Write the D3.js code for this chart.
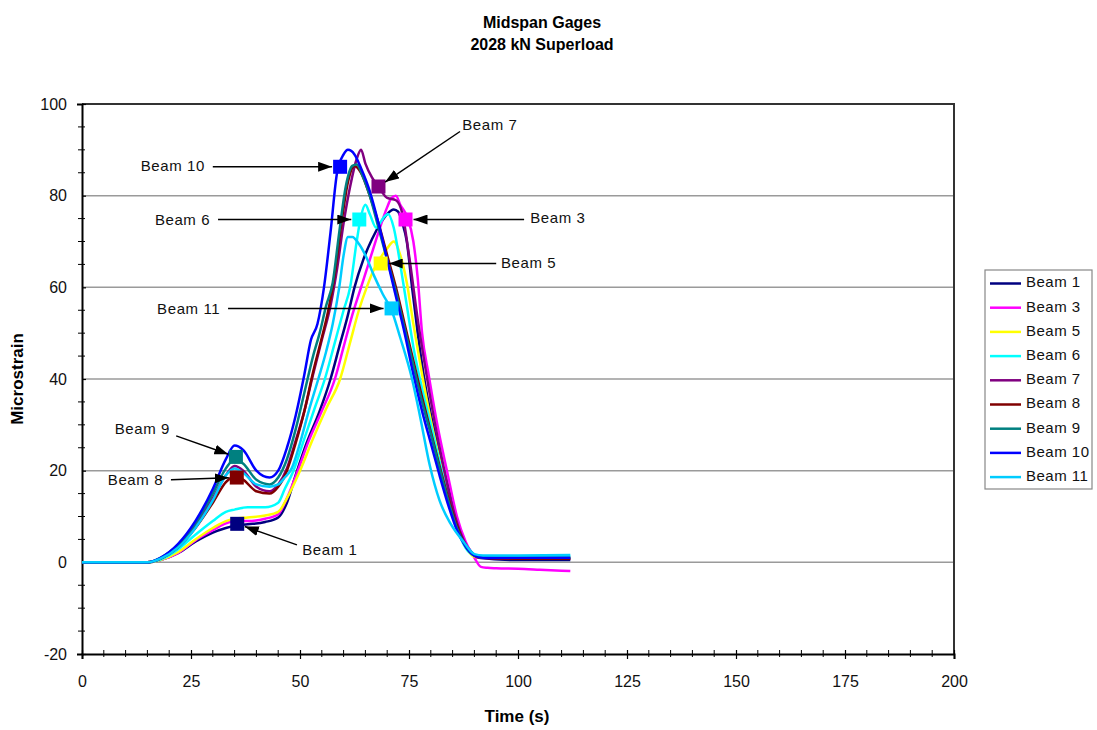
<!DOCTYPE html>
<html>
<head>
<meta charset="utf-8">
<script src="https://cdn.jsdelivr.net/npm/d3@7"></script>
<style>
  body { margin: 0; background: #fff; font-family: "Liberation Sans", Arial, sans-serif; }
</style>
</head>
<body>
<script>
// series as [time (s), microstrain]
const beamNames = ["Beam 1", "Beam 3", "Beam 5", "Beam 6", "Beam 7", "Beam 8", "Beam 9", "Beam 10", "Beam 11"];
const beamColors = ["#000080", "#ff00ff", "#ffff00", "#00ffff", "#800080", "#800000", "#008080", "#0000ff", "#00ccff"];

const beam1 = [[0,0],[15,0],[18,0.5],[22,2],[26,4.5],[30,6.5],[33,7.5],[35,8],[38,8.3],[42,8.8],[45,9.8],[47,13],[49,19],[51.5,26],[54.5,33],[57,40],[59,47],[61,54],[62.5,60],[64.5,66],[66.5,70.5],[68.5,74],[70,76],[71.5,77],[72.5,76.5],[73.5,74],[74.5,70],[75.7,60],[77,50],[78.5,40],[80.5,30],[83,20],[85.5,11],[87.5,5],[89.5,2],[91,1],[100,0.5],[112,0.5]];
const beam3 = [[0,0],[15,0],[18,0.5],[22,2],[26,4.8],[30,7],[33,8.5],[35,9],[38,9],[42,9.5],[45,10.5],[47,14],[49.5,20],[52,26.5],[55,33],[58,40],[60,47],[62,54],[64,60],[66,66],[68,72],[70,77.5],[71,79.5],[72,80],[73,78],[74.5,75.5],[76,70],[77,62],[78,50],[79.5,41],[81.5,30],[83.7,20],[86,10],[88,4.5],[90,1],[91.5,-1],[93,-1.2],[95,-1.3],[100,-1.4],[105,-1.6],[112,-1.9]];
const beam5 = [[0,0],[15,0],[18,0.5],[22,2.2],[26,5],[30,7.5],[33,9],[35,9.5],[38,9.8],[42,10.2],[45,11],[47,14],[50,20],[53,27],[56,33.5],[59.2,40],[61.5,48],[63.5,55],[65.3,60],[67,64],[68.5,66.5],[70,68.5],[71.5,70],[73,67],[74.5,61],[76,52],[78,41],[80,31],[82,22.5],[84,14.5],[86,8],[88,3.5],[90,1.2],[92,1],[100,1],[112,1]];
const beam6 = [[0,0],[15,0],[18,0.6],[22,2.8],[26,6],[30,9],[33,11],[35,11.5],[38,12],[42,12],[45,13],[46.5,16],[48.5,20],[51,27],[53.5,34],[55.7,40],[58,48],[60,55],[61.5,60],[63,70],[64,75.5],[65,78],[66,76],[67.5,73],[69,75],[70.2,76],[71.5,73],[73,65],[74.5,56],[76,47],[77.5,40],[80,30],[82.5,20],[85,11],[87,5],[89,2],[91,1.2],[100,1.2],[112,1.3]];
const beam7 = [[0,0],[15,0],[18,0.8],[22,3.5],[26,8],[30,14],[33,19],[35,21],[37,20],[40,16.5],[43,15.5],[45,17],[47,20.5],[49,26.5],[51,33],[53,41],[55,48.5],[57,56],[58.5,64],[60,74],[61.5,82],[63,88],[64,90],[65,87],[66.5,84],[68,82],[70,79.5],[72,79],[73.5,76],[75,67],[77,53],[79,41],[81,30],[83,20.5],[85,12],[87,6],[89,2.5],[91,1],[100,0.8],[112,0.8]];
const beam8 = [[0,0],[15,0],[18,0.8],[22,3.2],[26,7.5],[30,13],[33,17.5],[35,18.8],[37,18],[40,15.5],[43,15],[45,16.5],[47,20],[49,26],[51,33],[53,41.5],[55,49],[56.5,55],[58,63],[59.5,74],[61,83],[62.5,86.5],[64,85],[66,80],[68,74],[70,67],[72,60],[74,52],[76,44],[78,36],[80,28.5],[82,21],[84,14],[86,8],[88,3.5],[90,1.5],[92,1],[100,0.8],[112,0.8]];
const beam9 = [[0,0],[15,0],[18,1],[22,3.8],[26,8.5],[30,15],[33,20.5],[35,22.5],[37,21.5],[40,18],[43,17],[45,18.5],[47,22.5],[49,29],[51,37],[53,45],[54.5,50],[56,56],[57.5,61],[59,72],[60.5,82],[62,86.5],[63,86.8],[64.5,84],[66,80],[68,73],[70,66],[72,59],[74,51],[76,43],[78,35],[80,28],[82,20.5],[84,13.5],[86,7.5],[88,3.5],[90,1.5],[92,1],[100,1],[112,1]];
const beam10 = [[0,0],[15,0],[18,1],[22,4],[26,9],[30,16],[33,22.5],[35,25.5],[37,24.5],[40,20],[43,18.5],[45,20],[47,25],[49,32],[51,41],[52.5,48.5],[54,52],[55.5,60],[57,72],[58.5,85],[60,89],[61,90],[62.5,89],[64,86],[66,81],[68,74],[70,66],[72,58],[74,50],[76,41],[78,33],[80,26],[82,19],[84,12.5],[86,7],[88,3.5],[90,1.5],[92,1],[100,1],[112,1]];
const beam11 = [[0,0],[15,0],[18,0.8],[22,3.2],[26,7.5],[30,13.5],[33,19],[35,20.5],[37,19.5],[40,17],[43,16.5],[45,17],[46.5,18.5],[48.1,20.5],[50,26],[52,33],[54.2,40],[56,46],[57.5,52],[59,60],[60,67],[61,71],[62,71],[63.5,69.5],[65,67],[67,62.5],[69,58.5],[71,55],[73,49],[75.7,40],[77.5,32],[79.8,21],[82,13.5],[84.5,8.5],[87.5,4.5],[90,1.8],[92,1.5],[100,1.5],[112,1.6]];
const beamSeries = [beam1, beam3, beam5, beam6, beam7, beam8, beam9, beam10, beam11];

// labelled points (same order as beamNames)
const markerPoints = [[35.6,8.4],[74.2,74.8],[68.5,65.2],[63.6,74.8],[68,82],[35.5,18.5],[35.3,23],[59.2,86.3],[71,55.4]];
// annotation text anchor and arrow tail, in data units
const labelPoints = [[50.5,2.5],[102.8,74.9],[96.1,65],[29.4,74.5],[87.2,95.2],[18.6,17.7],[20.2,28.9],[28.2,86.3],[31.7,55]];
const arrowTails = [[49.3,3.8],[101.4,74.8],[95,65.2],[31.2,74.8],[86.7,94],[20.4,18],[21.6,27.6],[30,86.3],[33.5,55.4]];
const labelAnchor = ["start","start","start","end","start","end","end","end","end"];

const xTicks = [0, 25, 50, 75, 100, 125, 150, 175, 200];
const yTicks = [-20, 0, 20, 40, 60, 80, 100];

const W = 1097, H = 730;
const svg = d3.select("body").append("svg").attr("width", W).attr("height", H);

const x = d3.scaleLinear().domain([0, 200]).range([82, 954]);
const y = d3.scaleLinear().domain([-20, 100]).range([654, 104]);

// titles
svg.append("text").attr("x", 542).attr("y", 28).attr("text-anchor", "middle")
   .style("font-size", "16px").style("font-weight", "bold").text("Midspan Gages");
svg.append("text").attr("x", 542).attr("y", 50).attr("text-anchor", "middle")
   .style("font-size", "16px").style("font-weight", "bold").text("2028 kN Superload");

// gridlines
svg.append("g").selectAll("line")
   .data(yTicks.filter(d => d > -20 && d < 100))
   .join("line")
   .attr("x1", x(0)).attr("x2", x(200))
   .attr("y1", d => y(d)).attr("y2", d => y(d))
   .attr("stroke", "#9a9a9a").attr("stroke-width", 1.5);

// plot border (top/right)
svg.append("path")
   .attr("d", `M${x(0)},${y(100)}H${x(200)}V${y(-20)}`)
   .attr("fill", "none").attr("stroke", "#333").attr("stroke-width", 2);

// axes
const yAxis = svg.append("g").attr("transform", `translate(${x(0)},0)`)
   .call(d3.axisLeft(y).tickValues(yTicks).tickFormat(d => String(d)).tickSize(5).tickPadding(10));
yAxis.append("g").selectAll("line")
   .data(d3.range(-20, 101, 5).filter(d => d % 20 !== 0))
   .join("line").attr("x1", -4).attr("x2", 3)
   .attr("y1", d => y(d)).attr("y2", d => y(d)).attr("stroke", "#000");

const xAxis = svg.append("g").attr("transform", `translate(0,${y(-20)})`)
   .call(d3.axisBottom(x).tickValues(xTicks).tickSize(5).tickPadding(17));
xAxis.append("g").selectAll("line")
   .data(d3.range(0, 201, 5).filter(d => d % 25 !== 0))
   .join("line").attr("y1", -4).attr("y2", 3)
   .attr("x1", d => x(d)).attr("x2", d => x(d)).attr("stroke", "#000");

[yAxis, xAxis].forEach(a => {
  a.select(".domain").attr("stroke", "#000").attr("stroke-width", 2);
  a.selectAll(".tick line").attr("stroke", "#000").attr("stroke-width", 1.2);
  a.selectAll(".tick text").style("font-size", "16px")
   .style("font-family", "'Liberation Sans', Arial, sans-serif").attr("fill", "#111");
});
xAxis.selectAll(".tick line").attr("y1", -4);
yAxis.selectAll(".tick line").attr("x2", 4);

// axis titles
svg.append("text").attr("x", 517).attr("y", 722).attr("text-anchor", "middle")
   .style("font-size", "17px").style("font-weight", "bold").text("Time (s)");
svg.append("text").attr("transform", `translate(23,${(y(100) + y(-20)) / 2}) rotate(-90)`)
   .attr("text-anchor", "middle")
   .style("font-size", "17px").style("font-weight", "bold").text("Microstrain");

// lines
const line = d3.line().x(d => x(d[0])).y(d => y(d[1])).curve(d3.curveMonotoneX);
svg.append("g").selectAll("path")
   .data(beamSeries)
   .join("path")
   .attr("d", line)
   .attr("fill", "none")
   .attr("stroke", (d, i) => beamColors[i])
   .attr("stroke-width", 2.5)
   .attr("stroke-linejoin", "round");

// markers
const ms = 14;
svg.append("g").selectAll("rect")
   .data(markerPoints)
   .join("rect")
   .attr("x", d => x(d[0]) - ms / 2).attr("y", d => y(d[1]) - ms / 2)
   .attr("width", ms).attr("height", ms)
   .attr("fill", (d, i) => beamColors[i]);

// annotations
svg.append("defs").append("marker")
   .attr("id", "arrow").attr("viewBox", "0 0 14 10")
   .attr("refX", 14).attr("refY", 5)
   .attr("markerWidth", 14).attr("markerHeight", 10)
   .attr("markerUnits", "userSpaceOnUse").attr("orient", "auto")
   .append("path").attr("d", "M0,0L14,5L0,10Z").attr("fill", "#000");

const ann = svg.append("g");
markerPoints.forEach((m, i) => {
  const x0 = x(arrowTails[i][0]), y0 = y(arrowTails[i][1]);
  const mx = x(m[0]), my = y(m[1]);
  const len = Math.hypot(mx - x0, my - y0);
  const off = 8;
  ann.append("line")
     .attr("x1", x0).attr("y1", y0)
     .attr("x2", mx - (mx - x0) / len * off).attr("y2", my - (my - y0) / len * off)
     .attr("stroke", "#000").attr("stroke-width", 1.5)
     .attr("marker-end", "url(#arrow)");
  ann.append("text")
     .attr("x", x(labelPoints[i][0])).attr("y", y(labelPoints[i][1]))
     .attr("text-anchor", labelAnchor[i]).attr("dominant-baseline", "middle")
     .style("font-size", "15px").style("letter-spacing", "0.6px").attr("fill", "#111")
     .text(beamNames[i]);
});

// legend
const legend = svg.append("g").attr("transform", "translate(985,270)");
legend.append("rect").attr("width", 107).attr("height", 219)
   .attr("fill", "#fff").attr("stroke", "#888").attr("stroke-width", 1.2);
const rows = legend.selectAll("g.row").data(beamNames).join("g")
   .attr("class", "row")
   .attr("transform", (d, i) => `translate(0,${13.5 + i * 24.2})`);
rows.append("line").attr("x1", 5).attr("x2", 36)
   .attr("stroke", (d, i) => beamColors[i]).attr("stroke-width", 2.5);
rows.append("text").attr("x", 41).attr("dominant-baseline", "middle")
   .style("font-size", "15px").style("letter-spacing", "0.5px").attr("fill", "#111").text(d => d);
</script>
</body>
</html>
